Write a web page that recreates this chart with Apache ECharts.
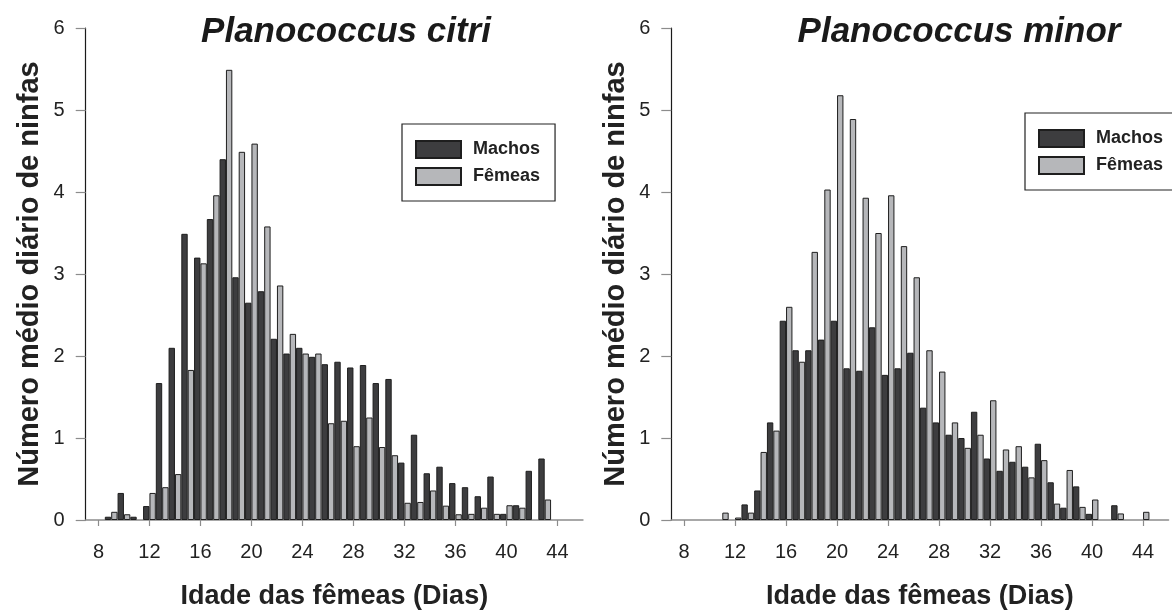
<!DOCTYPE html>
<html>
<head>
<meta charset="utf-8">
<script src="https://cdn.jsdelivr.net/npm/echarts@6/dist/echarts.min.js"></script>
<style>
  html, body { margin: 0; padding: 0; background: #ffffff; }
  #chart { width: 1172px; height: 610px; }
</style>
</head>
<body>
<div id="chart"></div>
<script>
// Days (x categories shown on a value axis)
const days = [9,10,11,12,13,14,15,16,17,18,19,20,21,22,23,24,25,26,27,28,29,30,31,32,33,34,35,36,37,38,39,40,41,42,43,44];
const xTickLabels = [8,12,16,20,24,28,32,36,40,44];
const yTickLabels = [0,1,2,3,4,5,6];

// Planococcus citri
const citriMachos = [0.04,0.33,0.04,0.17,1.67,2.10,3.49,3.20,3.67,4.40,2.96,2.65,2.79,2.21,2.03,2.10,1.99,1.90,1.93,1.86,1.89,1.67,1.72,0.70,1.04,0.57,0.65,0.45,0.40,0.29,0.53,0.075,0.18,0.60,0.75,null];
const citriFemeas = [0.10,0.07,null,0.33,0.40,0.56,1.83,3.13,3.96,5.49,4.49,4.59,3.58,2.86,2.27,2.03,2.03,1.18,1.21,0.90,1.25,0.89,0.79,0.21,0.22,0.36,0.175,0.07,0.075,0.15,0.075,0.18,0.15,null,0.25,null];

// Planococcus minor
const minorMachos = [null,null,null,null,0.19,0.36,1.19,2.43,2.07,2.07,2.20,2.43,1.85,1.82,2.35,1.77,1.85,2.04,1.37,1.19,1.04,1.00,1.32,0.75,0.60,0.71,0.65,0.93,0.46,0.15,0.41,0.075,null,0.18,null,null];
const minorFemeas = [null,null,0.09,0.03,0.09,0.83,1.09,2.60,1.93,3.27,4.03,5.18,4.89,3.93,3.50,3.96,3.34,2.96,2.07,1.81,1.19,0.88,1.04,1.46,0.86,0.90,0.52,0.73,0.20,0.61,0.16,0.25,null,0.08,null,0.10];

const titles = ['Planococcus citri', 'Planococcus minor'];
const seriesNames = ['Machos', 'Fêmeas'];
const xName = 'Idade das fêmeas (Dias)';
const yName = 'Número médio diário de ninfas';

const FONT = '"Liberation Sans", Arial, Helvetica, sans-serif';
const DARK = '#3d3d3f';
const LIGHT = '#b6b7ba';
const EDGE = '#1e1e1e';

function pairs(vals) {
  return days.map((d, i) => [d, vals[i] == null ? '-' : vals[i]]);
}

const X_MIN = 7, X_MAX = 46;
const PX_PER_DAY = 12.75;
const GRID_W = (X_MAX - X_MIN) * PX_PER_DAY;
const grids = [
  { left: 85.7, top: 28, width: GRID_W, height: 492 },
  { left: 671.3, top: 28, width: GRID_W, height: 492 }
];

function xAxis(gi) {
  return {
    type: 'value', gridIndex: gi, min: X_MIN, max: X_MAX,
    name: xName, nameLocation: 'middle', nameGap: 63,
    nameTextStyle: { fontFamily: FONT, fontSize: 27, fontWeight: 'bold', color: '#222' },
    axisLine: { show: true, onZero: false, lineStyle: { color: '#8c8c8c', width: 1.5 } },
    axisTick: { show: true, length: 6, customValues: xTickLabels, lineStyle: { color: '#8c8c8c', width: 1.2 } },
    axisLabel: { show: true, customValues: xTickLabels, margin: 22, fontFamily: FONT, fontSize: 20, color: '#222' },
    splitLine: { show: false }
  };
}
function yAxis(gi) {
  return {
    type: 'value', gridIndex: gi, min: yTickLabels[0], max: yTickLabels[yTickLabels.length - 1], interval: 1,
    name: yName, nameLocation: 'middle', nameGap: 41,
    nameTextStyle: { fontFamily: FONT, fontSize: 29, fontWeight: 'bold', color: '#222' },
    axisLine: { show: true, lineStyle: { color: '#1a1a1a', width: 1.2 } },
    axisTick: { show: true, length: 10, lineStyle: { color: '#8c8c8c', width: 1.2 } },
    axisLabel: { show: true, margin: 21, fontFamily: FONT, fontSize: 20, color: '#222' },
    splitLine: { show: false }
  };
}
function bar(name, vals, gi, color) {
  return {
    type: 'bar', name: name, xAxisIndex: gi, yAxisIndex: gi,
    data: pairs(vals), barWidth: '50%', barGap: '0%',
    itemStyle: { color: color, borderColor: EDGE, borderWidth: 1 },
    emphasis: { disabled: true }, animation: false
  };
}
function legend(left, top) {
  return {
    orient: 'vertical', left: left, top: top,
    data: seriesNames, icon: 'rect',
    itemWidth: 45, itemHeight: 17, itemGap: 8,
    padding: [16, 15, 15, 13],
    borderColor: '#222', borderWidth: 1.2, backgroundColor: '#fff',
    selectedMode: false,
    textStyle: { fontFamily: FONT, fontSize: 18, fontWeight: 'bold', color: '#222', lineHeight: 17, padding: [0, 0, 0, 7] }
  };
}

const chart = echarts.init(document.getElementById('chart'), null, { renderer: 'canvas' });
chart.setOption({
  animation: false,
  backgroundColor: '#ffffff',
  title: [
    { text: titles[0], left: 341, top: 10, textAlign: 'center',
      textStyle: { fontFamily: FONT, fontSize: 35, fontWeight: 'bold', fontStyle: 'italic', color: '#1a1a1a' } },
    { text: titles[1], left: 954, top: 10, textAlign: 'center',
      textStyle: { fontFamily: FONT, fontSize: 35, fontWeight: 'bold', fontStyle: 'italic', color: '#1a1a1a' } }
  ],
  legend: [legend(402, 124), legend(1025, 113)],
  grid: grids.map(g => Object.assign({ outerBoundsMode: 'none', containLabel: false }, g)),
  xAxis: [xAxis(0), xAxis(1)],
  yAxis: [yAxis(0), yAxis(1)],
  series: [
    bar(seriesNames[0], citriMachos, 0, DARK),
    bar(seriesNames[1], citriFemeas, 0, LIGHT),
    bar(seriesNames[0], minorMachos, 1, DARK),
    bar(seriesNames[1], minorFemeas, 1, LIGHT)
  ]
});
</script>
</body>
</html>
